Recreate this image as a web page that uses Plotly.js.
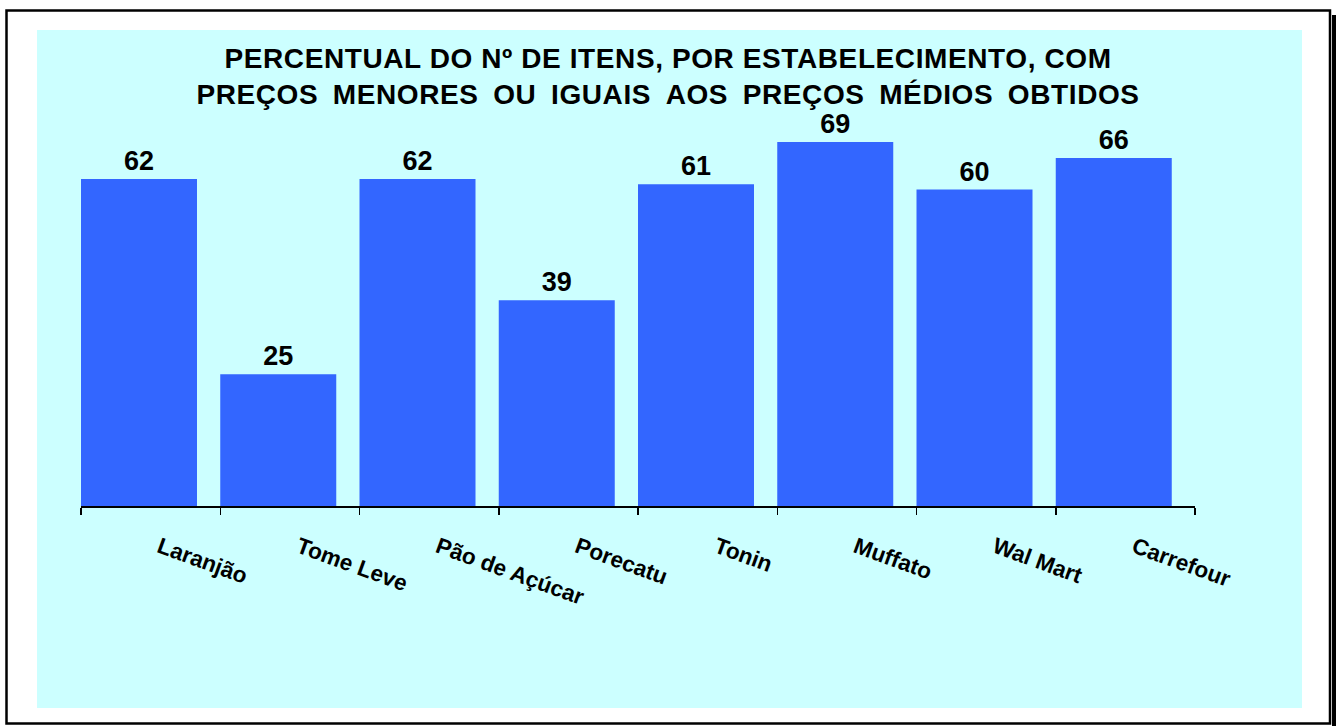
<!DOCTYPE html>
<html>
<head>
<meta charset="utf-8">
<script src="https://cdn.plot.ly/plotly-3.0.1.min.js"></script>
<style>
  html, body { margin: 0; padding: 0; background: #ffffff; }
  #chart { width: 1336px; height: 726px; }
  #chart .gtitle { letter-spacing: 0.6px; }
</style>
</head>
<body>
<div id="chart"></div>
<script>
// ---- data ----
const estabelecimentos = ["Laranjão", "Tome Leve", "Pão de Açúcar", "Porecatu", "Tonin", "Muffato", "Wal Mart", "Carrefour"];
const percentuais = [62, 25, 62, 39, 61, 69, 60, 66];
const tituloLinha1 = "PERCENTUAL DO Nº DE ITENS, POR ESTABELECIMENTO, COM";
const tituloLinha2 = "PREÇOS MENORES OU IGUAIS AOS PREÇOS MÉDIOS OBTIDOS";

// ---- layout geometry ----
const W = 1336, H = 726;
const M = { l: 81, r: 141, t: 30, b: 220 };
const plotW = W - M.l - M.r, plotH = H - M.t - M.b;
const px = x => (x - M.l) / plotW;
const py = y => (H - M.b - y) / plotH;
const pxPerUnit = 5.274;
const yMax = plotH / pxPerUnit;

const FONT = '"Liberation Sans", Arial, Helvetica, sans-serif';
const wide = "\u2002";
const titulo2 = tituloLinha2.split(" ").join(wide);

const trace = {
  type: "bar",
  x: estabelecimentos,
  y: percentuais,
  text: percentuais.map(String),
  textposition: "outside",
  cliponaxis: false,
  textfont: { family: FONT, size: 27, color: "#000000", weight: "bold" },
  marker: { color: "#3366FF", line: { width: 0 } },
  width: 0.833,
  offset: -0.5,
  hoverinfo: "x+y"
};

const layout = {
  width: W, height: H,
  margin: M,
  paper_bgcolor: "#ffffff",
  plot_bgcolor: "rgba(0,0,0,0)",
  showlegend: false,
  title: {
    text: tituloLinha1 + "<br>" + titulo2,
    font: { family: FONT, size: 28, color: "#000000", weight: "bold" },
    x: 0.5, xref: "container", xanchor: "center",
    y: 1 - 68 / H, yref: "container", yanchor: "middle"
  },
  xaxis: {
    type: "category",
    range: [-0.5, estabelecimentos.length - 0.5],
    showgrid: false, zeroline: false,
    showline: true, linecolor: "#000000", linewidth: 1.5,
    ticks: "outside", tickson: "boundaries", ticklen: 7, tickwidth: 1.5, tickcolor: "#000000",
    tickangle: 20,
    ticklabelstandoff: 18,
    ticklabelshift: 9,
    tickfont: { family: FONT, size: 22.5, color: "#000000", weight: "bold" },
    automargin: false,
    fixedrange: true
  },
  yaxis: {
    visible: false,
    range: [0, yMax],
    showgrid: false, zeroline: false,
    fixedrange: true
  },
  shapes: [
    { type: "rect", xref: "paper", yref: "paper", layer: "below",
      x0: px(37), x1: px(1302), y0: py(708), y1: py(30),
      fillcolor: "#CCFFFF", line: { width: 0 } },
    { type: "rect", xref: "paper", yref: "paper", layer: "below",
      x0: px(1332), x1: px(1337), y0: py(727), y1: py(15),
      fillcolor: "#000000", line: { width: 0 } },
    { type: "rect", xref: "paper", yref: "paper", layer: "below",
      x0: px(6.5), x1: px(1330), y0: py(723.5), y1: py(10.5),
      fillcolor: "rgba(0,0,0,0)", line: { color: "#000000", width: 2.5 } }
  ]
};

Plotly.newPlot("chart", [trace], layout, { displayModeBar: false, staticPlot: true });
</script>
</body>
</html>
